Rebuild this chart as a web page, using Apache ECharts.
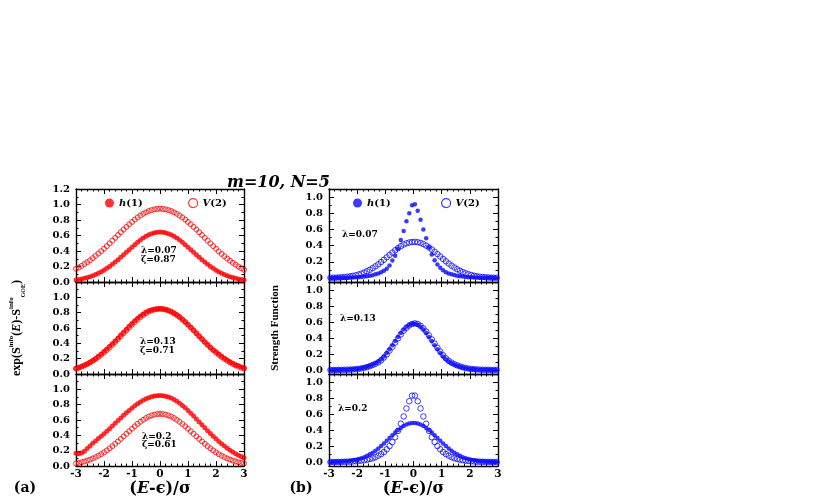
<!DOCTYPE html>
<html>
<head>
<meta charset="utf-8">
<script src="https://cdn.jsdelivr.net/npm/echarts@6/dist/echarts.min.js"></script>
<style>html,body{margin:0;padding:0;background:#fff;}#c{width:830px;height:498px;}</style>
</head>
<body>
<div id="c"></div>
<script>
// ---------- data ----------
const xLeft = [-3,-2.9,-2.8,-2.7,-2.6,-2.5,-2.4,-2.3,-2.2,-2.1,-2,-1.9,-1.8,-1.7,-1.6,-1.5,-1.4,-1.3,-1.2,-1.1,-1,-0.9,-0.8,-0.7,-0.6,-0.5,-0.4,-0.3,-0.2,-0.1,0,0.1,0.2,0.3,0.4,0.5,0.6,0.7,0.8,0.9,1,1.1,1.2,1.3,1.4,1.5,1.6,1.7,1.8,1.9,2,2.1,2.2,2.3,2.4,2.5,2.6,2.7,2.8,2.9,3];
const xRight = [-2.95,-2.85,-2.75,-2.65,-2.55,-2.45,-2.35,-2.25,-2.15,-2.05,-1.95,-1.85,-1.75,-1.65,-1.55,-1.45,-1.35,-1.25,-1.15,-1.05,-0.95,-0.85,-0.75,-0.65,-0.55,-0.45,-0.35,-0.25,-0.15,-0.05,0.05,0.15,0.25,0.35,0.45,0.55,0.65,0.75,0.85,0.95,1.05,1.15,1.25,1.35,1.45,1.55,1.65,1.75,1.85,1.95,2.05,2.15,2.25,2.35,2.45,2.55,2.65,2.75,2.85,2.95];

// panel (a): exp(S^info(E)-S^info_GOE)
const aTopH = [0.025,0.031,0.038,0.047,0.057,0.068,0.081,0.096,0.113,0.132,0.153,0.176,0.201,0.228,0.257,0.287,0.318,0.351,0.384,0.417,0.450,0.482,0.513,0.541,0.567,0.590,0.609,0.624,0.636,0.643,0.645,0.643,0.636,0.624,0.609,0.590,0.567,0.541,0.513,0.482,0.450,0.417,0.384,0.351,0.318,0.287,0.257,0.228,0.201,0.176,0.153,0.132,0.113,0.096,0.081,0.068,0.057,0.047,0.038,0.031,0.025];
const aTopV = [0.170,0.188,0.208,0.232,0.255,0.280,0.308,0.337,0.367,0.398,0.429,0.463,0.498,0.534,0.570,0.606,0.642,0.677,0.711,0.744,0.775,0.805,0.833,0.858,0.880,0.899,0.916,0.928,0.938,0.943,0.945,0.943,0.938,0.928,0.916,0.899,0.880,0.858,0.833,0.805,0.775,0.744,0.711,0.677,0.642,0.606,0.570,0.534,0.498,0.463,0.429,0.395,0.363,0.332,0.302,0.274,0.248,0.224,0.200,0.178,0.158];
const aMidH = [0.072,0.083,0.097,0.113,0.132,0.153,0.176,0.200,0.230,0.262,0.295,0.327,0.361,0.396,0.432,0.470,0.508,0.546,0.585,0.622,0.659,0.694,0.726,0.757,0.784,0.808,0.826,0.835,0.843,0.848,0.850,0.848,0.841,0.829,0.813,0.793,0.769,0.742,0.711,0.679,0.644,0.607,0.570,0.531,0.493,0.455,0.417,0.381,0.346,0.312,0.290,0.260,0.232,0.206,0.182,0.160,0.140,0.122,0.106,0.092,0.080];
const aMidV = [0.070,0.082,0.096,0.112,0.130,0.150,0.172,0.196,0.222,0.250,0.280,0.312,0.346,0.381,0.417,0.455,0.493,0.531,0.570,0.607,0.644,0.679,0.711,0.742,0.769,0.793,0.813,0.829,0.841,0.848,0.850,0.848,0.841,0.829,0.813,0.793,0.769,0.742,0.711,0.679,0.644,0.607,0.570,0.531,0.493,0.455,0.417,0.381,0.346,0.312,0.280,0.250,0.222,0.196,0.172,0.150,0.130,0.112,0.096,0.082,0.070];
const aBotH = [0.168,0.160,0.172,0.195,0.228,0.262,0.299,0.327,0.358,0.389,0.421,0.455,0.488,0.523,0.558,0.593,0.627,0.661,0.695,0.726,0.757,0.785,0.812,0.836,0.858,0.876,0.892,0.904,0.913,0.918,0.920,0.918,0.911,0.901,0.886,0.867,0.844,0.819,0.790,0.759,0.725,0.690,0.652,0.614,0.575,0.538,0.500,0.462,0.425,0.390,0.356,0.322,0.291,0.261,0.233,0.208,0.184,0.162,0.142,0.124,0.108];
const aBotV = [0.034,0.041,0.050,0.060,0.072,0.085,0.100,0.117,0.136,0.156,0.179,0.204,0.231,0.260,0.290,0.321,0.354,0.387,0.421,0.454,0.487,0.519,0.549,0.578,0.603,0.626,0.645,0.660,0.671,0.678,0.680,0.678,0.671,0.660,0.645,0.626,0.603,0.578,0.549,0.519,0.487,0.454,0.421,0.387,0.354,0.321,0.290,0.260,0.231,0.204,0.179,0.156,0.136,0.117,0.100,0.085,0.072,0.060,0.050,0.041,0.034];

// panel (b): strength function
const bTopH = [0.001,0.001,0.002,0.002,0.003,0.003,0.004,0.005,0.006,0.008,0.010,0.013,0.017,0.022,0.028,0.035,0.045,0.055,0.070,0.090,0.115,0.155,0.215,0.275,0.360,0.470,0.580,0.700,0.800,0.900,0.910,0.830,0.720,0.600,0.490,0.380,0.290,0.220,0.165,0.125,0.095,0.072,0.056,0.045,0.036,0.028,0.022,0.017,0.013,0.010,0.008,0.006,0.005,0.004,0.003,0.003,0.002,0.002,0.001,0.001];
const bTopV = [0.002,0.003,0.004,0.006,0.008,0.011,0.015,0.020,0.026,0.033,0.043,0.054,0.067,0.083,0.101,0.122,0.144,0.169,0.197,0.225,0.255,0.285,0.314,0.343,0.369,0.393,0.413,0.428,0.439,0.444,0.446,0.442,0.433,0.419,0.400,0.377,0.352,0.324,0.295,0.265,0.235,0.206,0.178,0.152,0.129,0.108,0.089,0.072,0.058,0.046,0.036,0.028,0.021,0.016,0.012,0.009,0.006,0.004,0.003,0.002];
const bMidH = [0.001,0.001,0.001,0.002,0.002,0.003,0.004,0.006,0.008,0.011,0.016,0.022,0.030,0.040,0.053,0.068,0.085,0.105,0.133,0.170,0.213,0.260,0.310,0.363,0.414,0.463,0.506,0.541,0.566,0.578,0.578,0.566,0.541,0.506,0.463,0.414,0.363,0.310,0.260,0.213,0.170,0.133,0.105,0.085,0.068,0.053,0.040,0.030,0.022,0.016,0.011,0.008,0.006,0.004,0.003,0.002,0.002,0.001,0.001,0.001];
const bMidV = [0.001,0.001,0.001,0.001,0.002,0.003,0.004,0.005,0.007,0.010,0.014,0.020,0.027,0.036,0.048,0.062,0.077,0.095,0.121,0.156,0.196,0.242,0.291,0.343,0.395,0.445,0.490,0.528,0.557,0.575,0.583,0.575,0.553,0.521,0.480,0.432,0.382,0.330,0.278,0.230,0.185,0.146,0.115,0.092,0.073,0.058,0.045,0.034,0.025,0.018,0.013,0.009,0.007,0.005,0.003,0.002,0.002,0.001,0.001,0.001];
const bBotH = [0.001,0.002,0.003,0.004,0.006,0.009,0.012,0.016,0.022,0.029,0.038,0.049,0.062,0.078,0.097,0.118,0.143,0.170,0.200,0.233,0.266,0.301,0.335,0.368,0.400,0.427,0.451,0.470,0.483,0.489,0.489,0.483,0.470,0.451,0.427,0.400,0.368,0.335,0.301,0.266,0.233,0.200,0.170,0.143,0.118,0.097,0.078,0.062,0.049,0.038,0.029,0.022,0.016,0.012,0.009,0.006,0.004,0.003,0.002,0.001];
const bBotV = [0.001,0.001,0.002,0.002,0.003,0.004,0.005,0.006,0.008,0.011,0.014,0.018,0.023,0.030,0.038,0.048,0.062,0.080,0.100,0.125,0.160,0.200,0.250,0.310,0.390,0.480,0.570,0.670,0.760,0.830,0.830,0.760,0.670,0.570,0.480,0.390,0.310,0.250,0.200,0.160,0.125,0.100,0.080,0.062,0.048,0.038,0.030,0.023,0.018,0.014,0.011,0.008,0.006,0.005,0.004,0.003,0.002,0.002,0.001,0.001];

const yTicksB = [0,0.2,0.4,0.6,0.8,1.0];
const yMinorB = [0.1,0.3,0.5,0.7,0.9];
const lambdasA = ['λ=0.07','λ=0.13','λ=0.2'];
const zetasA = ['ζ=0.87','ζ=0.71','ζ=0.61'];
const lambdasB = ['λ=0.07','λ=0.13','λ=0.2'];

// ---------- layout ----------
const SERIF = '"DejaVu Serif", "Liberation Serif", serif';
const TSERIF = '"Liberation Serif", "DejaVu Serif", serif';
const RED = '#ff0000', BLUE = '#0a0aff';
const grids = [
  {left:76, top:189, width:168, height:93},
  {left:76, top:282, width:168, height:92},
  {left:76, top:374, width:168, height:93},
  {left:329, top:189, width:169, height:93},
  {left:329, top:282, width:169, height:92},
  {left:329, top:374, width:169, height:93}
];
const lblStyle = {fontFamily: SERIF, fontWeight:'bold', fontSize:10, color:'#000'};
const lineStyle = {color:'#000', width:1.4};
const xAxes = [], yAxes = [], series = [];
const mainY = [];
const xName = '({i|E}-ϵ)/σ';
for (let g = 0; g < 6; g++) {
  const isBottom = (g === 2 || g === 5);
  ['bottom','top'].forEach(pos => {
    const ax = {
      gridIndex:g, type:'value', min:-3, max:3, interval:1, position:pos,
      axisLine:{show:true, onZero:false, lineStyle},
      axisTick:{show:true, inside:true, length:5, lineStyle:{color:'#000', width:1}},
      minorTick:{show:true, splitNumber:5, length:2.5, lineStyle:{color:'#000', width:1}},
      splitLine:{show:false},
      axisLabel:{show: isBottom && pos === 'bottom', margin:3, ...lblStyle, fontSize:10.5}
    };
    if (isBottom && pos === 'bottom') {
      ax.name = xName; ax.nameLocation = 'middle'; ax.nameGap = 14;
      ax.nameTextStyle = {fontFamily: SERIF, fontWeight:'bold', fontSize:16, color:'#000',
        rich:{i:{fontFamily: SERIF, fontWeight:'bold', fontStyle:'italic', fontSize:16, color:'#000'}}};
    }
    xAxes.push(ax);
  });
  if (g < 3) {
    ['left','right'].forEach(pos => {
      const ax = {
        gridIndex:g, type:'value', min:0, max:1.2, interval:0.2, position:pos,
        axisLine:{show:true, onZero:false, lineStyle},
        axisTick:{show:true, inside:true, length:5, lineStyle:{color:'#000', width:1}},
        minorTick:{show:true, splitNumber:2, length:2.5, lineStyle:{color:'#000', width:1}},
        splitLine:{show:false},
        axisLabel:{show: pos === 'left', margin:6, showMaxLabel: g === 0, formatter: v => v.toFixed(1), ...lblStyle}
      };
      if (g === 1 && pos === 'left') {
        ax.name = '{t|exp(S}{sup|info}{t|(}{ti|E}{t|)-S}{sup|info}{sub|GOE}{t|)}';
        ax.nameLocation = 'middle'; ax.nameRotate = 90; ax.nameGap = 50;
        ax.nameTextStyle = {fontFamily: TSERIF, fontWeight:'bold', fontSize:12, color:'#000', lineHeight:18,
          rich:{
            t:{fontFamily: TSERIF, fontWeight:'bold', fontSize:12, color:'#000'},
            ti:{fontFamily: TSERIF, fontWeight:'bold', fontStyle:'italic', fontSize:12, color:'#000'},
            sup:{fontFamily: TSERIF, fontWeight:'bold', fontSize:7, color:'#000', verticalAlign:'top'},
            sub:{fontFamily: TSERIF, fontWeight:'bold', fontSize:6, color:'#000', verticalAlign:'bottom'}
          }};
      }
      if (pos === 'left') mainY[g] = yAxes.length;
      yAxes.push(ax);
    });
  } else {
    ['left','right'].forEach(pos => {
      const ax = {
        gridIndex:g, type:'value', min:-0.05, max:1.1, position:pos,
        axisLine:{show:true, onZero:false, lineStyle},
        axisTick:{show:true, inside:true, length:5, customValues:yTicksB, lineStyle:{color:'#000', width:1}},
        splitLine:{show:false},
        axisLabel:{show: pos === 'left', margin:6, customValues:yTicksB, formatter: v => v.toFixed(1), ...lblStyle}
      };
      if (g === 4 && pos === 'left') {
        ax.name = 'Strength Function';
        ax.nameLocation = 'middle'; ax.nameRotate = 90; ax.nameGap = 40;
        ax.nameTextStyle = {fontFamily: TSERIF, fontWeight:'bold', fontSize:11, color:'#000', padding:[0,0,8,0]};
      }
      if (pos === 'left') mainY[g] = yAxes.length;
      yAxes.push(ax);
      yAxes.push({
        gridIndex:g, type:'value', min:-0.05, max:1.1, position:pos,
        axisLine:{show:false, onZero:false},
        axisTick:{show:true, inside:true, length:2.5, customValues:yMinorB, lineStyle:{color:'#000', width:1}},
        splitLine:{show:false}, axisLabel:{show:false}
      });
    });
  }
}

function pairs(xs, ys) { return xs.map((x, i) => [x, ys[i]]); }
function addSeries(name, g, xs, ys, filled, color, size) {
  series.push({
    name, type:'scatter', xAxisIndex: 2*g, yAxisIndex: mainY[g],
    data: pairs(xs, ys), symbol:'circle', symbolSize:size, silent:true,
    itemStyle: filled ? {color} : {color:'rgba(255,255,255,0)', borderColor:color, borderWidth:1},
    emphasis:{disabled:true}
  });
}
addSeries('h(1)', 0, xLeft, aTopH, true, RED, 5);
addSeries('V(2)', 0, xLeft, aTopV, false, RED, 5);
addSeries('h(1)', 1, xLeft, aMidH, true, RED, 5);
addSeries('V(2)', 1, xLeft, aMidV, false, RED, 5);
addSeries('h(1)', 2, xLeft, aBotH, true, RED, 5);
addSeries('V(2)', 2, xLeft, aBotV, false, RED, 5);
addSeries('h(1) (b)', 3, xRight, bTopH, true, BLUE, 4.5);
addSeries('V(2) (b)', 3, xRight, bTopV, false, BLUE, 5.5);
addSeries('h(1) (b)', 4, xRight, bMidH, true, BLUE, 4.5);
addSeries('V(2) (b)', 4, xRight, bMidV, false, BLUE, 5.5);
addSeries('h(1) (b)', 5, xRight, bBotH, true, BLUE, 4.5);
addSeries('V(2) (b)', 5, xRight, bBotV, false, BLUE, 5.5);

const legFmt = n => n[0] === 'h' ? '{i|h}(1)' : '{i|V}(2)';
const legText = {fontFamily: SERIF, fontWeight:'bold', fontSize:10, color:'#000',
  rich:{i:{fontFamily: SERIF, fontWeight:'bold', fontStyle:'italic', fontSize:10, color:'#000'}}};
function legend(name, left, color, filled) {
  return {left, top:193, itemWidth:9, itemHeight:9, selectedMode:false, formatter:legFmt, textStyle:legText,
    data:[{name, icon:'circle', itemStyle: filled ? {color} : {color:'#fff', borderColor:color, borderWidth:1.2}}]};
}

const annFont = 'bold 9px "DejaVu Serif"';
function ann(text, x, y) {
  return {type:'text', x, y, silent:true, style:{text, font:annFont, fill:'#000', align:'left', verticalAlign:'middle'}};
}

const option = {
  animation:false,
  backgroundColor:'#fff',
  title:{text:'m=10, N=5', left:222, top:170,
    textStyle:{fontFamily: SERIF, fontWeight:'bold', fontStyle:'italic', fontSize:16, color:'#000'}},
  legend:[
    legend('h(1)', 100, RED, true), legend('V(2)', 183, RED, false),
    legend('h(1) (b)', 348, BLUE, true), legend('V(2) (b)', 436, BLUE, false)
  ],
  grid: grids,
  xAxis: xAxes,
  yAxis: yAxes,
  series,
  graphic:[
    ann(lambdasA[0], 141, 251), ann(zetasA[0], 141, 260),
    ann(lambdasA[1], 140, 342), ann(zetasA[1], 140, 351),
    ann(lambdasA[2], 142, 437), ann(zetasA[2], 142, 445),
    ann(lambdasB[0], 342, 235), ann(lambdasB[1], 340, 319), ann(lambdasB[2], 338, 409),
    {type:'text', x:25, y:488, silent:true, style:{text:'(a)', font:'bold 14px "DejaVu Serif"', fill:'#000', align:'center', verticalAlign:'middle'}},
    {type:'text', x:301, y:488, silent:true, style:{text:'(b)', font:'bold 14px "DejaVu Serif"', fill:'#000', align:'center', verticalAlign:'middle'}}
  ]
};
const chart = echarts.init(document.getElementById('c'), null, {renderer:'canvas'});
chart.setOption(option);
</script>
</body>
</html>
